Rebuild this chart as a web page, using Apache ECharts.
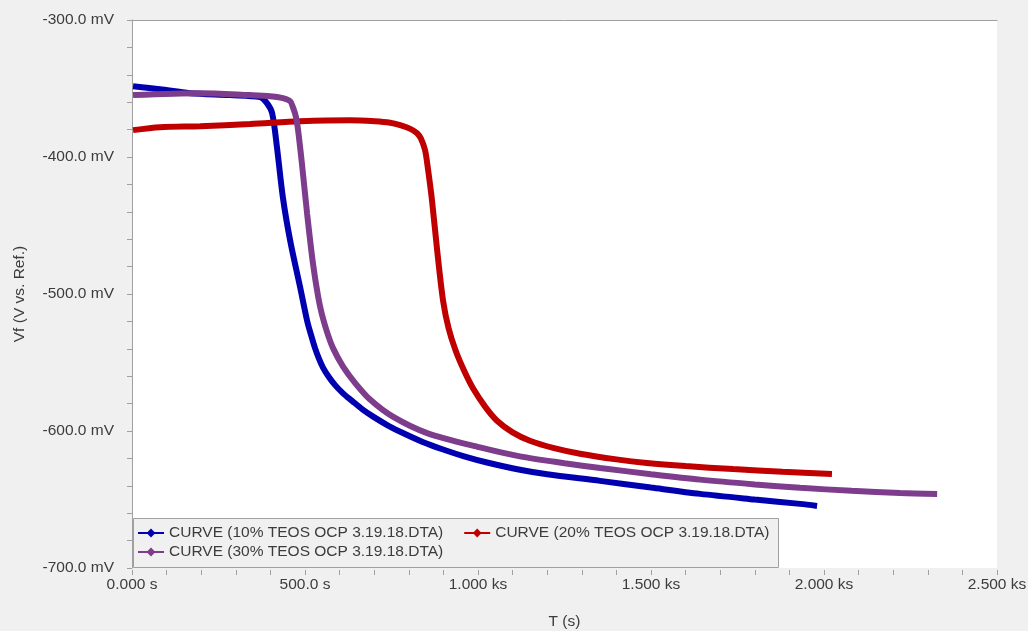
<!DOCTYPE html>
<html>
<head>
<meta charset="utf-8">
<title>OCP curves</title>
<script src="https://cdn.jsdelivr.net/npm/echarts@6/dist/echarts.min.js"></script>
<style>
  html, body { margin: 0; padding: 0; background: #f0f0f0; }
  #chart { width: 1028px; height: 631px; }
</style>
</head>
<body>
<div id="chart"></div>
<script>
// Open-circuit potential vs. time, [T (s), Vf (mV)]
const curve10 = [
  [3, -348.3], [81, -350.5], [168, -353.4], [283, -354.8], [370, -356.3],
  [390, -360.7], [405, -368], [419, -392.9], [436, -429.4], [457, -460.9],
  [486, -495.2], [506, -519.4], [517, -529.5], [529, -539.5], [540, -547],
  [552, -553.7], [570, -561], [587, -566.5], [610, -572.5], [636, -578],
  [665, -584], [697, -589.5], [740, -596], [783, -601.5], [840, -608],
  [899, -613.5], [960, -618.5], [1026, -623], [1121, -628.3], [1200, -631.6],
  [1353, -636.4], [1500, -641.3], [1642, -645.9], [1800, -650], [1931, -653.2],
  [1980, -654.7]
];
const curve20 = [
  [3, -380.4], [81, -378.2], [197, -377.5], [341, -376], [486, -373.9],
  [630, -373.1], [702, -373.9], [746, -375], [775, -376.8], [803, -379.3],
  [824, -382.6], [835, -386.5], [847, -395], [855, -408], [867, -431.6],
  [882, -468.2], [899, -504.8], [915, -525], [935, -541], [960, -556],
  [986, -569], [1020, -582], [1055, -592.5], [1100, -601], [1150, -607.1],
  [1220, -612.5], [1295, -616.6], [1400, -620.7], [1488, -623.3], [1600, -625.6],
  [1737, -627.8], [1880, -629.7], [2023, -631.3]
];
const curve30 = [
  [3, -354.8], [197, -353.4], [341, -354.8], [399, -355.6], [436, -357],
  [457, -359.2], [465, -363.6], [474, -370.9], [480, -380.4], [491, -404.6],
  [506, -441.1], [523, -477.7], [538, -502], [549, -515], [564, -528],
  [581, -539.5], [610, -553], [645, -565], [688, -577], [754, -589.5],
  [853, -601.5], [1006, -612], [1121, -618.5], [1250, -623.5], [1353, -627],
  [1500, -631.5], [1642, -635.5], [1800, -639], [1931, -641.5], [2080, -643.6],
  [2220, -645.2], [2327, -645.9]
];

const seriesNames = [
  'CURVE (10% TEOS OCP 3.19.18.DTA)',
  'CURVE (20% TEOS OCP 3.19.18.DTA)',
  'CURVE (30% TEOS OCP 3.19.18.DTA)'
];
const seriesColors = ['#0000b0', '#c00000', '#7d3c8c'];

const xTickLabels = ['0.000 s', '500.0 s', '1.000 ks', '1.500 ks', '2.000 ks', '2.500 ks'];
const yTickLabels = ['-700.0 mV', '-600.0 mV', '-500.0 mV', '-400.0 mV', '-300.0 mV'];

const FONT = 'Liberation Sans, Arial, sans-serif';
const TEXT = '#3c3c3c';
const EDGE = '#a0a0a0';
const FS = 15.5;

const chart = echarts.init(document.getElementById('chart'));

function line(name, data, color) {
  return {
    name: name,
    type: 'line',
    data: data,
    smooth: 0.3,
    symbol: 'diamond',
    symbolSize: 10,
    showSymbol: false,
    lineStyle: { color: color, width: 6 },
    itemStyle: { color: color },
    emphasis: { disabled: true },
    animation: false
  };
}

const legendCommon = {
  orient: 'horizontal',
  itemWidth: 26,
  itemHeight: 11,
  itemGap: 20,
  padding: 0,
  lineStyle: { width: 2 },
  textStyle: { fontFamily: FONT, fontSize: FS, color: TEXT },
  selectedMode: false,
  z: 10
};

chart.setOption({
  backgroundColor: '#f0f0f0',
  animation: false,
  grid: {
    left: 132, right: 31, top: 20, bottom: 63,
    outerBoundsMode: 'none',
    containLabel: false,
    show: true, backgroundColor: '#ffffff', borderWidth: 0
  },
  graphic: [{
    type: 'rect',
    left: 133, top: 518,
    shape: { width: 645, height: 49 },
    style: { fill: '#f0f0f0', stroke: EDGE, lineWidth: 1 },
    z: 5
  }],
  legend: [
    Object.assign({}, legendCommon, { data: [seriesNames[0], seriesNames[1]], left: 137, top: 525 }),
    Object.assign({}, legendCommon, { data: [seriesNames[2]], left: 137, top: 544 })
  ],
  xAxis: [{
    type: 'value',
    min: 0, max: 2500, interval: 500,
    offset: 2,
    name: 'T (s)',
    nameLocation: 'middle',
    nameGap: 44,
    nameTextStyle: { fontFamily: FONT, fontSize: FS, color: TEXT },
    axisLine: { show: false },
    axisTick: { show: true, inside: false, length: 5, lineStyle: { color: EDGE } },
    minorTick: { show: true, splitNumber: 5, length: 5, lineStyle: { color: EDGE } },
    splitLine: { show: false },
    axisLabel: {
      margin: 7,
      fontFamily: FONT, fontSize: FS, color: TEXT,
      formatter: function (v) { return xTickLabels[Math.round(v / 500)]; }
    }
  }, {
    type: 'value',
    position: 'top',
    min: 0, max: 2500,
    axisLine: { show: true, lineStyle: { color: EDGE, width: 1 } },
    axisTick: { show: false },
    axisLabel: { show: false },
    splitLine: { show: false }
  }],
  yAxis: {
    type: 'value',
    min: -700, max: -300, interval: 100,
    name: 'Vf (V vs. Ref.)',
    nameLocation: 'middle',
    nameGap: 104,
    nameTextStyle: { fontFamily: FONT, fontSize: FS, color: TEXT },
    axisLine: { show: true, lineStyle: { color: EDGE, width: 1 } },
    axisTick: { show: true, length: 5, lineStyle: { color: EDGE } },
    minorTick: { show: true, splitNumber: 5, length: 5, lineStyle: { color: EDGE } },
    splitLine: { show: false },
    axisLabel: {
      margin: 18,
      fontFamily: FONT, fontSize: FS, color: TEXT,
      formatter: function (v) { return yTickLabels[Math.round((v + 700) / 100)]; }
    }
  },
  series: [
    line(seriesNames[0], curve10, seriesColors[0]),
    line(seriesNames[1], curve20, seriesColors[1]),
    line(seriesNames[2], curve30, seriesColors[2])
  ]
});
</script>
</body>
</html>
